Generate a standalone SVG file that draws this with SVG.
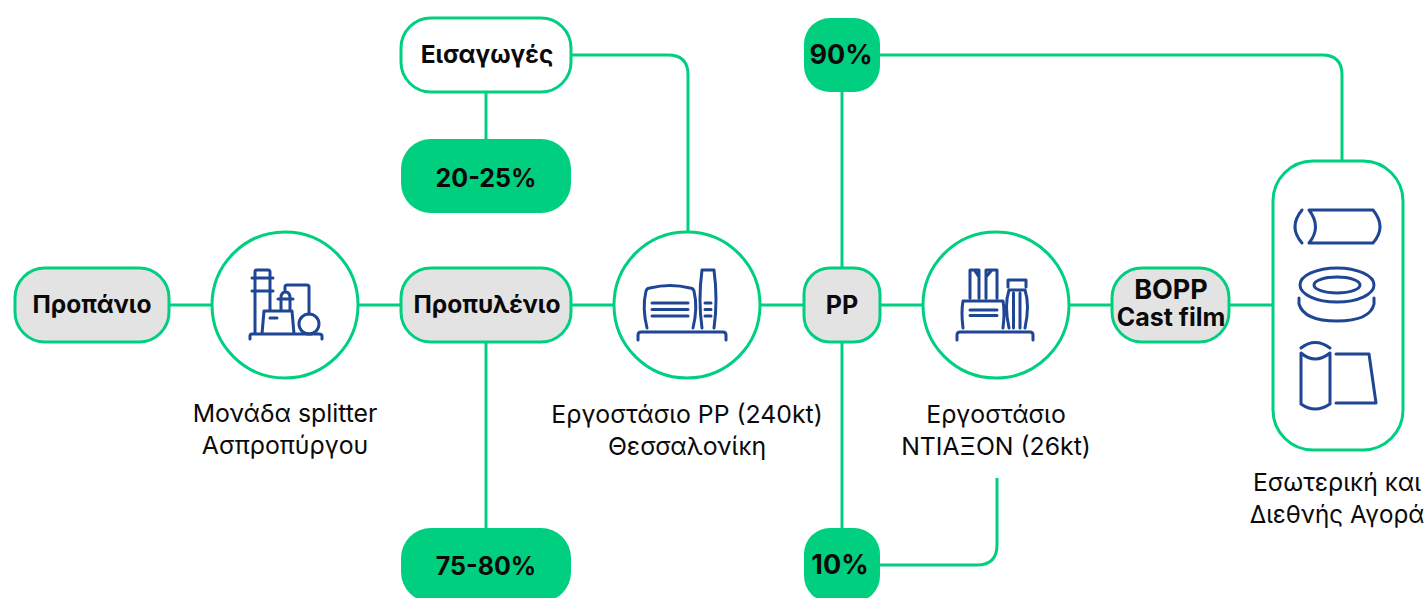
<svg xmlns="http://www.w3.org/2000/svg" width="1428" height="598" viewBox="0 0 1428 598">
<style>
.c{fill:none;stroke:#00cf80;stroke-width:3}
.n{stroke:#00cf80;stroke-width:3}
.w{fill:#fff}.g{fill:#e3e3e3}.f{fill:#00cf80;stroke:none}
.i{fill:none;stroke:#1f4694;stroke-width:3;stroke-linecap:round;stroke-linejoin:round}
text{font-family:"Inter","Noto Sans",sans-serif;text-anchor:middle;fill:#0a0a0a}
.b{font-weight:700;font-size:24.5px}
.p{font-weight:700;font-size:25px}
.l{font-size:24.8px}
</style>
<rect width="1428" height="598" fill="#fff"/>
<g id="connectors" class="c">
<path d="M169 305H212"/>
<path d="M358 305H401"/>
<path d="M571 305H614"/>
<path d="M760 305H804"/>
<path d="M880 305H923"/>
<path d="M1069 305H1112"/>
<path d="M1229 305H1273"/>
<path d="M486 92V139"/>
<path d="M486 342V528"/>
<path d="M571 55H668Q688 55 688 75V232"/>
<path d="M842 92V268"/>
<path d="M842 342V528"/>
<path d="M880 55H1322Q1342 55 1342 75V161"/>
<path d="M880 565H977Q997 565 997 545V478"/>
</g>
<g id="propanio"><rect class="n g" x="15" y="268" width="154" height="74" rx="30"/><text class="b" x="92" y="313">Προπάνιο</text></g>
<g id="splitter"><circle class="n w" cx="285" cy="305" r="73"/>
<path class="i" d="M250 339V336Q250 334 252 334H319Q322 334 322 336V339M255 334V272Q255 270 257 270H268Q270 270 270 272V311M252 278H273M252 291H273M262 334L264 311H292L294 334M270 318H277M281 311V298Q281 292 285.500 292Q290 292 290 298V311M278 299H293M285 292V287Q285 285 287 285H307Q309 285 309 287V314"/>
<circle class="i" cx="309" cy="324" r="10"/></g>
<g id="propylenio"><rect class="n g" x="401" y="268" width="170" height="74" rx="30"/><text class="b" x="487" y="313">Προπυλένιο</text></g>
<g id="eisagoges"><rect class="n w" x="401" y="18" width="170" height="74" rx="30"/><text class="b" x="487" y="63">Εισαγωγές</text></g>
<g id="pct2025"><rect class="f" x="401" y="139" width="170" height="74" rx="30"/><text class="p" x="486" y="187">20-25%</text></g>
<g id="pct7580"><rect class="f" x="401" y="528" width="170" height="74" rx="30"/><text class="p" x="486" y="575">75-80%</text></g>
<g id="pp-plant"><circle class="n w" cx="687" cy="305" r="73"/>
<path class="i" d="M647 328Q642 308 646 291Q647 288 650 288Q670 283 690 288Q693 288 694 291Q698 308 693 328M652 303H688M652 309.500H688M652 316H688M638 340V335Q638 332 641 332H723Q726 332 726 335V340M702 328Q698 300 702 270H714Q718 300 714 328M705 303H711M705 309.500H711M705 316H711"/></g>
<g id="pp"><rect class="n g" x="804" y="268" width="76" height="74" rx="26"/><text class="p" x="842" y="314">PP</text></g>
<g id="pct90"><rect class="f" x="804" y="18" width="76" height="74" rx="26"/><text class="p" x="841" y="64" style="font-size:27px">90%</text></g>
<g id="pct10"><rect class="f" x="804" y="528" width="76" height="74" rx="26"/><text class="p" x="840" y="574" style="font-size:27px">10%</text></g>
<g id="diaxon"><circle class="n w" cx="996" cy="305" r="73"/>
<path class="i" d="M970 298V270H979V298M975 271L979 277M986 298V270H997V298M991 271L986 277M963 328Q961 312 963 301H1003Q1005 312 1003 328M970 310H997M970 315.500H997M957 340V335Q957 332 960 332H1030Q1033 332 1033 335V340M1008 287V280H1026V287M1009 328Q1004 305 1009 290H1025Q1030 305 1025 328M1013.500 293V328M1020 293V328"/></g>
<g id="bopp"><rect class="n g" x="1112" y="268" width="117" height="74" rx="30"/><text class="b"><tspan x="1171" y="299" style="font-size:27px">BOPP</tspan><tspan x="1171" y="326" style="font-size:25px">Cast film</tspan></text></g>
<g id="market"><rect class="n w" x="1273" y="161" width="130" height="289" rx="40"/>
<path class="i" d="M1302 210Q1288 227 1302 243M1309 210H1373Q1387 227 1373 243H1309Q1322 227 1309 210"/>
<ellipse class="i" cx="1337" cy="285" rx="37" ry="17"/>
<ellipse class="i" cx="1337" cy="285" rx="23" ry="8"/>
<path class="i" d="M1299 298V304Q1304 321 1337 321Q1370 321 1374 304V298"/>
<path class="i" d="M1301 348Q1315 337 1330 348M1301 353Q1315 365 1330 353V404Q1315 414 1301 404ZM1336 354H1369L1376 403H1336"/></g>
<g id="labels">
<text class="l" x="285" y="422">Μονάδα splitter</text><text class="l" x="285" y="454">Ασπροπύργου</text>
<text class="l" x="687" y="423">Εργοστάσιο PP (240kt)</text><text class="l" x="687" y="455">Θεσσαλονίκη</text>
<text class="l" x="996" y="423">Εργοστάσιο</text><text class="l" x="996" y="455">ΝΤΙΑΞΟΝ (26kt)</text>
<text class="l" x="1337" y="491">Εσωτερική και</text><text class="l" x="1337" y="523" style="font-size:24.2px">Διεθνής Αγορά</text>
</g>
</svg>
